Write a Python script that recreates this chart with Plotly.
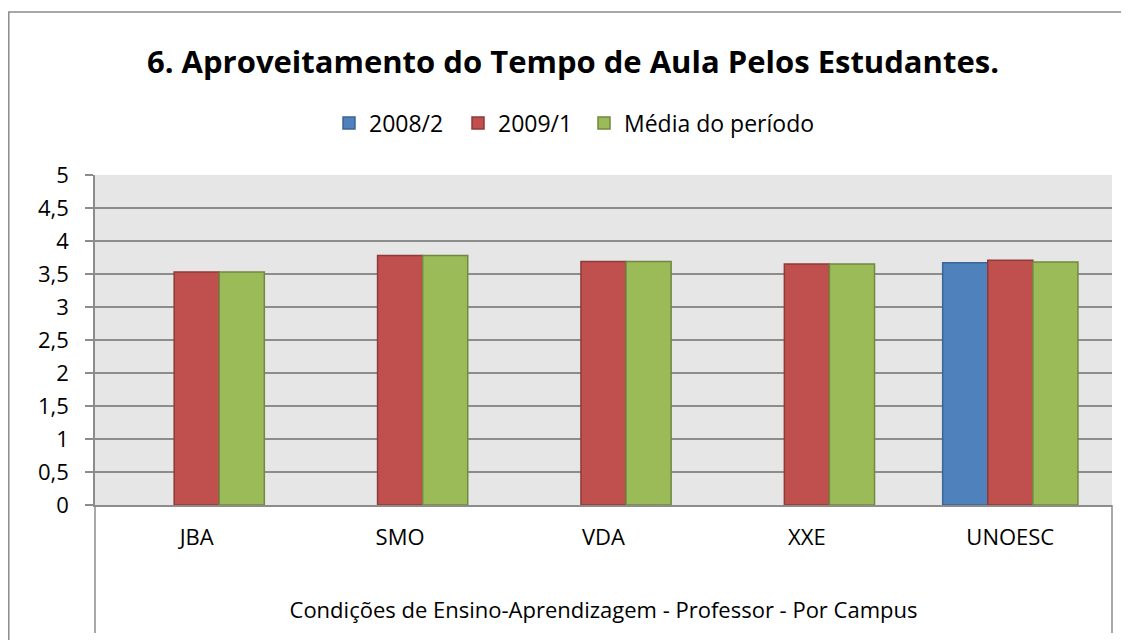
import plotly.graph_objects as go

categories = ["JBA", "SMO", "VDA", "XXE", "UNOESC"]
series_names = ["2008/2", "2009/1", "Média do período"]
s2008_2 = [None, None, None, None, 3.67]
s2009_1 = [3.53, 3.78, 3.69, 3.65, 3.71]
media = [3.53, 3.78, 3.69, 3.65, 3.68]
y_ticks = [0, 0.5, 1, 1.5, 2, 2.5, 3, 3.5, 4, 4.5, 5]

title_text = "6. Aproveitamento do Tempo de Aula Pelos Estudantes."
x_title = "Condições de Ensino-Aprendizagem - Professor - Por Campus"

fills = ["#4F81BD", "#C0504D", "#9BBB59"]
edges = ["#3A6595", "#8E3A38", "#71893F"]

FONT = "Open Sans"
FS = 22

OFF = 8  # page body margin
W, H = 1129 - OFF, 640 - OFF
L, R, T, B = 95 - OFF, 17, 175 - OFF, 135
pw, ph = W - L - R, H - T - B

# helpers converting reference page pixels to paper coords
def px_x(x):
    return (x - OFF - L) / pw

def px_y(y):
    return (H - B - (y - OFF)) / ph

legend_ids = ["legend", "legend2", "legend3"]
legend_left = [329, 458, 584]

fig = go.Figure()
for name, vals, fc, ec, lid in zip(series_names, [s2008_2, s2009_1, media], fills, edges, legend_ids):
    fig.add_trace(go.Bar(
        x=categories, y=vals, name=name, legend=lid, showlegend=True,
        marker=dict(color=fc, line=dict(color=ec, width=1.5)),
    ))

shapes = [
    dict(type="rect", xref="paper", yref="paper",
         x0=px_x(8.8), x1=px_x(1150), y0=px_y(660), y1=px_y(12),
         line=dict(color="#8c8c8c", width=1.5), fillcolor="rgba(0,0,0,0)", layer="below"),
    dict(type="line", xref="paper", yref="paper", x0=0, x1=0, y0=px_y(633), y1=0,
         line=dict(color="#8c8c8c", width=1.5)),
    dict(type="line", xref="paper", yref="paper", x0=1, x1=1, y0=px_y(633), y1=0,
         line=dict(color="#8c8c8c", width=1.5)),
]

legends = {}
for lid, lx in zip(legend_ids, legend_left):
    legends[lid] = dict(orientation="h", x=px_x(lx), xanchor="left",
                        y=px_y(123), yanchor="middle", font=dict(family=FONT, size=23),
                        bgcolor="rgba(0,0,0,0)", itemwidth=30, visible=True)

fig.update_layout(
    width=W, height=H,
    margin=dict(l=L, r=R, t=T, b=B),
    showlegend=True,
    paper_bgcolor="white",
    plot_bgcolor="#E6E6E6",
    separators=", ",
    barmode="group",
    bargap=0.335,
    bargroupgap=0,
    font=dict(family=FONT, size=FS, color="#000000"),
    title=dict(text="<b>" + title_text + "</b>", font=dict(family=FONT, size=31, color="#000"),
               x=px_x(573), xref="paper", xanchor="center",
               y=1 - (62 - OFF) / H, yref="container", yanchor="middle"),
    shapes=shapes,
    xaxis=dict(
        showgrid=False, showline=True, linecolor="#8c8c8c", linewidth=1.5,
        ticks="", ticklabelstandoff=12,
        tickfont=dict(family=FONT, size=FS),
        title=dict(text=x_title, font=dict(family=FONT, size=FS), standoff=52),
        automargin=False,
    ),
    yaxis=dict(
        range=[0, 5], tickvals=y_ticks,
        showgrid=True, gridcolor="#8c8c8c", gridwidth=1.5,
        showline=True, linecolor="#8c8c8c", linewidth=1.5,
        ticks="outside", ticklen=8, tickcolor="#8c8c8c", tickwidth=1.5,
        ticklabelstandoff=12,
        tickfont=dict(family=FONT, size=FS),
        zeroline=False, automargin=False,
    ),
    **legends,
)

fig.write_html("out.html")
